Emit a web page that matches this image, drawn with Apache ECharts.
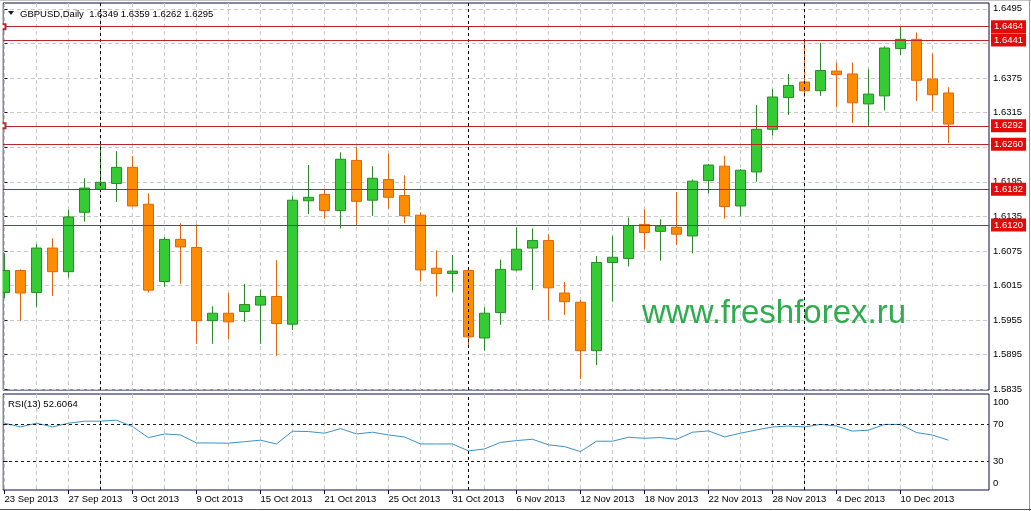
<!DOCTYPE html>
<html>
<head>
<meta charset="utf-8">
<script src="https://cdn.jsdelivr.net/npm/echarts@6/dist/echarts.min.js"></script>
<style>
html,body{margin:0;padding:0;background:#ffffff;}
#chart{width:1031px;height:511px;}
</style>
</head>
<body>
<div id="chart"></div>
<script>
// ---------------- DATA ----------------
const dates = ['23 Sep 2013','24 Sep 2013','25 Sep 2013','26 Sep 2013','27 Sep 2013','30 Sep 2013',
  '1 Oct 2013','2 Oct 2013','3 Oct 2013','4 Oct 2013','7 Oct 2013','8 Oct 2013','9 Oct 2013','10 Oct 2013',
  '11 Oct 2013','14 Oct 2013','15 Oct 2013','16 Oct 2013','17 Oct 2013','18 Oct 2013','21 Oct 2013',
  '22 Oct 2013','23 Oct 2013','24 Oct 2013','25 Oct 2013','28 Oct 2013','29 Oct 2013','30 Oct 2013',
  '31 Oct 2013','1 Nov 2013','4 Nov 2013','5 Nov 2013','6 Nov 2013','7 Nov 2013','8 Nov 2013',
  '11 Nov 2013','12 Nov 2013','13 Nov 2013','14 Nov 2013','15 Nov 2013','18 Nov 2013','19 Nov 2013',
  '20 Nov 2013','21 Nov 2013','22 Nov 2013','25 Nov 2013','26 Nov 2013','27 Nov 2013','28 Nov 2013',
  '29 Nov 2013','2 Dec 2013','3 Dec 2013','4 Dec 2013','5 Dec 2013','6 Dec 2013','9 Dec 2013',
  '10 Dec 2013','11 Dec 2013','12 Dec 2013','13 Dec 2013'];

const opens  = [1.6003,1.6041,1.6003,1.6080,1.6039,1.6142,1.6182,1.6192,1.6220,1.6156,
                1.6022,1.6095,1.6081,1.5954,1.5967,1.5970,1.5981,1.5996,1.5948,1.6162,
                1.6173,1.6145,1.6232,1.6163,1.6199,1.6171,1.6137,1.6045,1.6036,1.6041,
                1.5924,1.5968,1.6042,1.6080,1.6093,1.6002,1.5986,1.5902,1.6055,1.6062,
                1.6121,1.6109,1.6116,1.6101,1.6197,1.6222,1.6153,1.6212,1.6286,1.6341,
                1.6368,1.6353,1.6387,1.6382,1.6330,1.6344,1.6426,1.6442,1.6373,1.6349];
const closes = [1.6041,1.6002,1.6080,1.6039,1.6134,1.6184,1.6194,1.6220,1.6153,1.6007,
                1.6095,1.6082,1.5954,1.5967,1.5952,1.5982,1.5996,1.5949,1.6163,1.6168,
                1.6145,1.6234,1.6161,1.6201,1.6168,1.6136,1.6042,1.6036,1.6040,1.5926,
                1.5967,1.6043,1.6078,1.6093,1.6011,1.5987,1.5902,1.6055,1.6064,1.6119,
                1.6107,1.6118,1.6104,1.6196,1.6224,1.6152,1.6215,1.6286,1.6342,1.6362,
                1.6353,1.6388,1.6381,1.6332,1.6347,1.6427,1.6442,1.6371,1.6346,1.6295];
const lows   = [1.5993,1.5954,1.5978,1.5997,1.6029,1.6126,1.6181,1.6160,1.6152,1.6003,
                1.6013,1.6018,1.5914,1.5914,1.5922,1.5952,1.5914,1.5893,1.5938,1.6139,
                1.6131,1.6114,1.6119,1.6136,1.6148,1.6123,1.6022,1.5996,1.6004,1.5907,
                1.5902,1.5947,1.6040,1.6007,1.5955,1.5964,1.5853,1.5877,1.5987,1.6048,
                1.6078,1.6058,1.6085,1.6071,1.6175,1.6131,1.6136,1.6195,1.6275,1.6311,
                1.6343,1.6344,1.6324,1.6297,1.6292,1.6319,1.6415,1.6335,1.6318,1.6262];
const highs  = [1.6071,1.6043,1.6087,1.6097,1.6146,1.6201,1.6260,1.6248,1.6240,1.6175,
                1.6099,1.6123,1.6121,1.5979,1.6002,1.6018,1.6008,1.6059,1.6170,1.6224,
                1.6181,1.6246,1.6255,1.6222,1.6244,1.6206,1.6142,1.6076,1.6068,1.6044,
                1.5977,1.6060,1.6116,1.6114,1.6104,1.6021,1.5990,1.6066,1.6101,1.6133,
                1.6147,1.6130,1.6177,1.6199,1.6226,1.6240,1.6217,1.6328,1.6356,1.6382,
                1.6441,1.6436,1.6402,1.6402,1.6390,1.6430,1.6464,1.6454,1.6417,1.6359];

const rsiValues = [71.1,67.1,71.1,67.1,71.1,73.3,73.3,74.4,67.4,55.4,
                   59.4,58.3,49.6,49.6,49.3,51.0,52.6,48.5,62.4,62.0,
                   60.2,65.2,59.4,61.3,58.3,56.1,48.5,48.5,48.5,40.9,
                   43.1,50.2,52.2,53.6,47.5,45.6,40.2,51.5,51.5,55.8,
                   54.7,55.5,53.6,61.3,62.7,56.2,60.2,63.8,67.0,68.0,
                   67.0,69.8,68.0,62.5,63.5,69.8,69.8,60.9,58.2,52.6];

const priceTickLabels = ['1.5835','1.5895','1.5955','1.6015','1.6075','1.6135',
                         '1.6195','1.6255','1.6315','1.6375','1.6435','1.6495'];
const rsiTickLabels = [0, 30, 70, 100];
const rsiLevels = [30, 70];
const levelLines = [1.6464, 1.6441, 1.6292, 1.6260, 1.6182, 1.6120];
const anchoredLevels = [1.6464, 1.6292];
const headerSymbol = 'GBPUSD,Daily';
const headerOHLC = '1.6349 1.6359 1.6262 1.6295';
const rsiTitle = 'RSI(13) 52.6064';
const watermark = 'www.freshforex.ru';

// ---------------- DERIVED ----------------
const candleData = dates.map((d, i) => [i, opens[i], closes[i], lows[i], highs[i]]);
const rsiData = rsiValues.map((v, i) => [i, v]);
const priceTickValues = priceTickLabels.map(Number);
const evenIdx = dates.map((d, i) => i).filter(i => i % 2 === 0);
const labelIdx = dates.map((d, i) => i).filter(i => i % 4 === 0);
const monthOf = d => d.split(' ')[1];
const monthStarts = dates.map((d, i) => i).filter(i => i > 0 && monthOf(dates[i]) !== monthOf(dates[i - 1]));

// ---------------- STYLE ----------------
const FONT = "'Liberation Sans', Arial, sans-serif";
const NAVY = '#0c0c48';
const GRID_DASH = '#c9c9c9';
const X_MIN = -0.09375, X_MAX = 61.53125;

const sepLines = monthStarts.map(i => ({
  xAxis: i, symbol: 'none',
  lineStyle: { color: '#000000', type: [3, 3], width: 1 },
  label: { show: false }
}));
const redLines = levelLines.map(v => ({
  yAxis: v,
  symbol: anchoredLevels.includes(v) ? 'emptyRect' : 'none',
  symbolSize: 5,
  lineStyle: { color: '#b8262b', type: 'solid', width: 1 },
  label: {
    show: true, position: 'end', distance: 2,
    formatter: () => v.toFixed(4),
    color: '#ffffff', backgroundColor: '#e30a0a',
    padding: [2, 3, 1, 3], fontSize: 9.5, fontFamily: FONT
  }
}));

const xBase = {
  type: 'value', min: X_MIN, max: X_MAX,
  axisLine: { show: false },
  axisTick: { show: false, customValues: evenIdx },
  axisLabel: { show: false },
  splitLine: { show: true, lineStyle: { color: GRID_DASH, type: [4, 3], width: 1 } }
};

const chart = echarts.init(document.getElementById('chart'), null, { renderer: 'canvas' });
chart.setOption({
  animation: false,
  backgroundColor: '#ffffff',
  grid: [
    { left: 3, top: 3, width: 986, height: 387, show: true, borderColor: NAVY, borderWidth: 1, backgroundColor: 'transparent' },
    { left: 3, top: 394, width: 986, height: 96, show: true, borderColor: NAVY, borderWidth: 1, backgroundColor: 'transparent' }
  ],
  xAxis: [
    Object.assign({ gridIndex: 0, position: 'bottom' }, xBase),
    Object.assign({ gridIndex: 1, position: 'top' }, xBase),
    {
      type: 'value', gridIndex: 1, position: 'bottom', min: X_MIN, max: X_MAX,
      axisLine: { show: false },
      axisTick: { show: true, length: 4, customValues: labelIdx, lineStyle: { color: NAVY } },
      axisLabel: {
        customValues: labelIdx, formatter: v => dates[Math.round(v)] || '',
        align: 'left', margin: 4, color: '#000000', fontSize: 9.5, fontFamily: FONT
      },
      splitLine: { show: false }
    }
  ],
  yAxis: [
    {
      type: 'value', gridIndex: 0, position: 'right', min: 1.583377, max: 1.650506,
      axisLine: { show: false },
      axisTick: { show: true, length: 3, customValues: priceTickValues, lineStyle: { color: NAVY } },
      axisLabel: {
        customValues: priceTickValues, formatter: v => v.toFixed(4),
        margin: 4, color: '#000000', fontSize: 9.5, fontFamily: FONT
      },
      splitLine: { show: true, lineStyle: { color: GRID_DASH, type: [4, 3], width: 1 } }
    },
    {
      type: 'value', gridIndex: 1, position: 'right', min: -1.63, max: 102.9,
      axisLine: { show: false },
      axisTick: { show: true, length: 3, customValues: rsiLevels, lineStyle: { color: NAVY } },
      axisLabel: {
        customValues: rsiTickLabels,
        formatter: v => v === 100 ? '{t|100}' : (v === 0 ? '{b|0}' : String(v)),
        margin: 4, color: '#000000', fontSize: 9.5, fontFamily: FONT,
        rich: {
          t: { padding: [11, 0, 0, 0], fontSize: 9.5, fontFamily: FONT, color: '#000000' },
          b: { padding: [0, 0, 10, 0], fontSize: 9.5, fontFamily: FONT, color: '#000000' }
        }
      },
      splitLine: { show: false }
    }
  ],
  series: [
    {
      type: 'candlestick', name: 'GBPUSD', xAxisIndex: 0, yAxisIndex: 0,
      data: candleData, encode: { x: 0, y: [1, 2, 3, 4] },
      barWidth: 10, silent: true,
      itemStyle: {
        color: '#33cc33', borderColor: '#2a8a2a',
        color0: '#ff8c00', borderColor0: '#e2640f', borderWidth: 1
      },
      markLine: {
        silent: true, symbol: 'none', animation: false, precision: 4,
        data: sepLines.concat(redLines)
      }
    },
    {
      type: 'line', name: 'RSI(13)', xAxisIndex: 2, yAxisIndex: 1,
      data: rsiData, showSymbol: false, silent: true,
      lineStyle: { color: '#3a92cc', width: 1 },
      markLine: {
        silent: true, symbol: 'none', animation: false, precision: 4,
        data: sepLines.concat(rsiLevels.map(v => ({
          yAxis: v, lineStyle: { color: '#1a1a1a', type: [3, 3], width: 1 }, label: { show: false }
        })))
      }
    }
  ],
  graphic: [
    { type: 'rect', z: 100, silent: true, shape: { x: 0, y: 0, width: 2.5, height: 491 }, style: { fill: '#ffffff' } },
    { type: 'line', z: 101, silent: true, shape: { x1: 0, y1: 0.5, x2: 1031, y2: 0.5 }, style: { stroke: '#c4c4c4', lineWidth: 1 } },
    { type: 'line', z: 101, silent: true, shape: { x1: 1029.5, y1: 0, x2: 1029.5, y2: 511 }, style: { stroke: '#9a9a9a', lineWidth: 1 } },
    { type: 'line', z: 101, silent: true, shape: { x1: 0, y1: 509.5, x2: 1031, y2: 509.5 }, style: { stroke: '#505050', lineWidth: 1 } },
    { type: 'polygon', z: 100, silent: true, shape: { points: [[8, 11], [14, 11], [11, 15]] }, style: { fill: '#1a1a40' } },
    { type: 'text', z: 100, silent: true, x: 20, y: 14,
      style: { text: headerSymbol + '  ' + headerOHLC, font: "9.5px 'Liberation Sans', Arial, sans-serif", fill: '#000000', verticalAlign: 'middle' } },
    { type: 'text', z: 100, silent: true, x: 8, y: 404,
      style: { text: rsiTitle, font: "9.5px 'Liberation Sans', Arial, sans-serif", fill: '#000000', verticalAlign: 'middle' } },
    { type: 'text', z: 50, silent: true, x: 642, y: 314,
      style: { text: watermark, font: "33px 'Liberation Sans', Arial, sans-serif", fill: '#2fac4e', verticalAlign: 'middle' } }
  ]
});
</script>
</body>
</html>
